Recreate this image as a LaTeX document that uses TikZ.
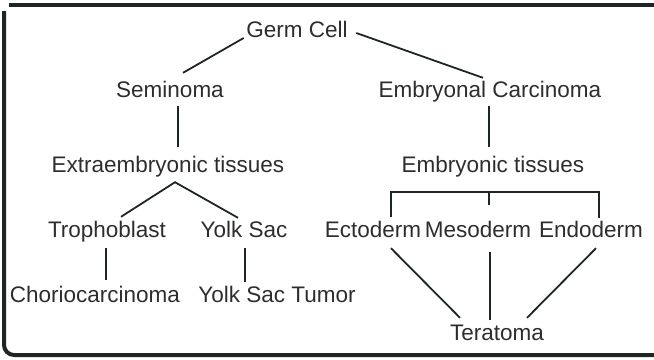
\documentclass[tikz,border=0pt]{standalone}
\usepackage{fontspec}
\setmainfont{Liberation Sans}
\usetikzlibrary{calc}
\definecolor{inkline}{RGB}{30,38,34}
\definecolor{inktext}{RGB}{45,45,45}
\begin{document}
\begin{tikzpicture}[x=1bp,y=-1bp,
  lbl/.style={inner sep=0pt,anchor=base,text height=16bp,text depth=5bp,
    font=\fontsize{22.5bp}{26bp}\selectfont,text=inktext},
  conn/.style={draw=inkline,line width=1.8bp},
  frame/.style={draw=inkline,line width=4bp}]
\useasboundingbox (0,0) rectangle (654,359);
% frame
\draw[frame] (9,5) -- (656,5);
\draw[frame,rounded corners=10bp] (4,11) -- (4,355) -- (656,355);
% nodes
\node[lbl] (germ) at (297,37) {Germ Cell};
\node[lbl] (sem) at (170,97) {Seminoma};
\node[lbl] (ec) at (490,97) {Embryonal Carcinoma};
\node[lbl] (ext) at (168,172) {Extraembryonic tissues};
\node[lbl] (emb) at (493,172) {Embryonic tissues};
\node[lbl] (tro) at (107,237) {Trophoblast};
\node[lbl] (yolk) at (244,237) {Yolk Sac};
\node[lbl] (ecto) at (373,237) {Ectoderm};
\node[lbl] (meso) at (478,237) {Mesoderm};
\node[lbl] (endo) at (591,237) {Endoderm};
\node[lbl] (chorio) at (95,302) {Choriocarcinoma};
\node[lbl] (yst) at (277,302) {Yolk Sac Tumor};
\node[lbl] (tera) at (497,340) {Teratoma};
% connectors
\draw[conn] ([shift={(-2.5,6.5)}]germ.west) -- ([shift={(13,-8)}]sem.north);
\draw[conn] ([shift={(8.5,1.5)}]germ.east) -- ([shift={(-7,-3)}]ec.north);
\draw[conn] ([shift={(8,4)}]sem.south) -- ([shift={(10,-9)}]ext.north);
\draw[conn] ([shift={(-1,4)}]ec.south) -- ([shift={(-4,-9)}]emb.north);
\draw[conn] ([shift={(14,-4)}]tro.north) -- ([shift={(7,5)}]ext.south) -- ([shift={(-6,-3)}]yolk.north);
\coordinate (br) at ([shift={(0,15)}]emb.south);
\coordinate (mtop) at ([shift={(11,-16)}]meso.north);
\draw[conn] ([shift={(18,-4)}]ecto.north) |- (br) -| ([shift={(8,-3)}]endo.north);
\draw[conn] (mtop) -- (mtop |- br);
\draw[conn] ([shift={(-1,6)}]tro.south) -- ([shift={(11,-6)}]chorio.north);
\draw[conn] ([shift={(1,6)}]yolk.south) -- ([shift={(-32,-4)}]yst.north);
\draw[conn] ([shift={(18,6)}]ecto.south) -- ([shift={(-37,-6)}]tera.north);
\draw[conn] ([shift={(12,10)}]meso.south) -- ([shift={(-7,-4)}]tera.north);
\draw[conn] ([shift={(5,6)}]endo.south) -- ([shift={(30,-6)}]tera.north);
\end{tikzpicture}
\end{document}
